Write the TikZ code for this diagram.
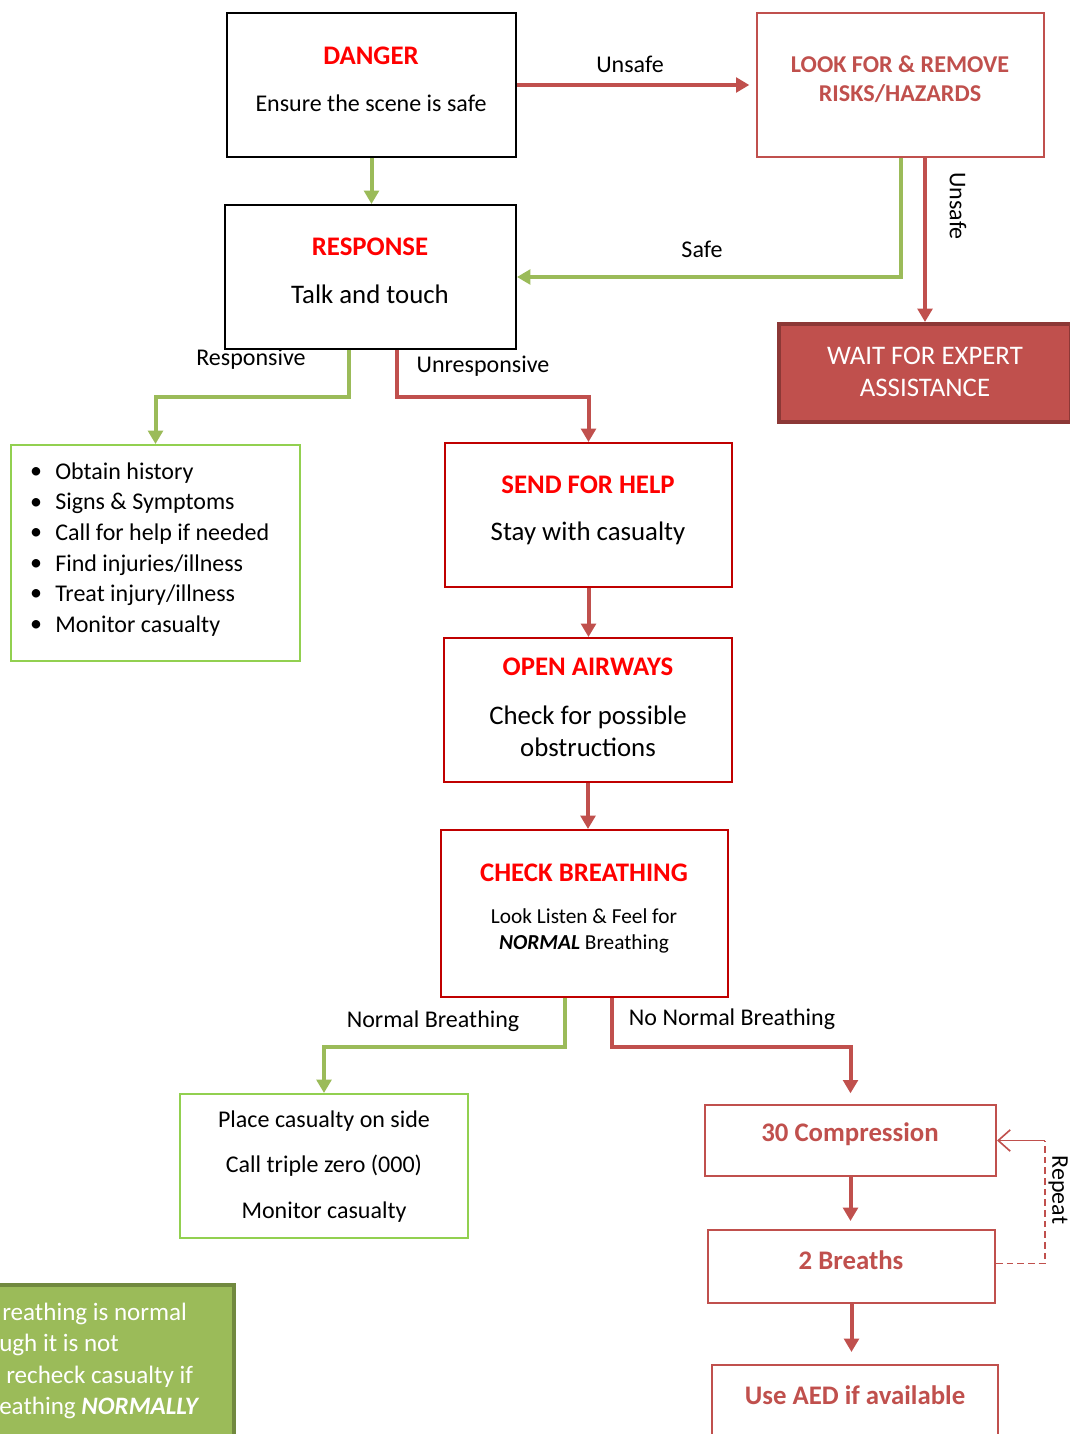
\documentclass[tikz,border=0pt]{standalone}
\usepackage{fontspec}
\setmainfont{Carlito}
\usetikzlibrary{arrows.meta,calc}

\definecolor{aidred}{HTML}{C0504D}
\definecolor{aidgreen}{HTML}{9BBB59}
\definecolor{boxgreen}{HTML}{92D050}
\definecolor{boxred}{HTML}{C00000}
\definecolor{darkred}{HTML}{8C3836}
\definecolor{darkgreen}{HTML}{71893F}

% font sizes (picture drawn in pixels, 1px = 0.75pt)
\newcommand{\fsBody}{\fontsize{18pt}{22pt}\selectfont}
\newcommand{\fsBig}{\fontsize{20.1pt}{24pt}\selectfont}
\newcommand{\fsSmall}{\fontsize{16pt}{19.5pt}\selectfont}

\tikzset{
  every node/.style={font=\fsBody},
  sz/.style 2 args={minimum width=#1*0.75pt, minimum height=#2*0.75pt, inner sep=0pt},
  plainbox/.style={draw=black, line width=1.5pt},
  redbox/.style={draw=boxred, line width=1.5pt},
  softbox/.style={draw=aidred, line width=1.5pt},
  greenbox/.style={draw=boxgreen, line width=1.5pt},
  ttl/.style={text=red, font=\fsBig\bfseries},
  softttl/.style={text=aidred, font=\fsBig\bfseries},
  lbl/.style={font=\fsBody},
  rarrow/.style={draw=aidred, line width=3pt, -{Triangle[length=10pt,width=11pt]}},
  garrow/.style={draw=aidgreen, line width=3pt, -{Triangle[length=10pt,width=11pt]}},
  notetxt/.style={text=white, anchor=west, inner sep=0pt, font={\fontsize{18.8pt}{22pt}\selectfont}},
}

\begin{document}
\begin{tikzpicture}[x=0.75pt,y=-0.75pt]
  \useasboundingbox (0,0) rectangle (1070,1434);

  % Boxes
  \node[plainbox, sz={289}{144}] (danger) at (371.5,85) {};
  \node[softbox, sz={287}{144}] (look) at (900.5,85) {};
  \node[plainbox, sz={291}{144}] (response) at (370.5,277) {};
  \node[draw=darkred, fill=aidred, line width=3pt, sz={292}{98}] (wait) at (925,373) {};
  \node[greenbox, sz={289}{216}] (bullets) at (155.5,553) {};
  \node[redbox, sz={287}{144}] (send) at (588.5,515) {};
  \node[redbox, sz={288}{144}] (open) at (588,710) {};
  \node[redbox, sz={287}{167}] (check) at (584.5,913.5) {};
  \node[greenbox, sz={288}{144}] (place) at (324,1166) {};
  \node[softbox, sz={291}{71}] (comp) at (850.5,1140.5) {};
  \node[softbox, sz={287}{73}] (breaths) at (851.5,1266.5) {};
  \node[softbox, sz={286}{73}] (aed) at (855,1401.5) {};
  \node[draw=darkgreen, fill=aidgreen, line width=3pt, sz={330}{200}, anchor=north east] (note) at (236,1283) {};

  % Texts in boxes
  \node[ttl] (dangerT) at (371,56) {DANGER};
  \node (dangerB) at (371,103) {Ensure the scene is safe};
  \node[text=aidred, align=center, font={\fontsize{18.1pt}{22pt}\selectfont\bfseries}] (lookT) at (900,79) {LOOK FOR \& REMOVE\\RISKS/HAZARDS};
  \node[ttl] (responseT) at (370,247) {RESPONSE};
  \node[font=\fsBig] (responseB) at (370,294) {Talk and touch};
  \node[text=white, align=center, font={\fontsize{20.1pt}{24pt}\selectfont}] (waitT) at (925,372) {WAIT FOR EXPERT\\ASSISTANCE};
  \foreach \txt [count=\i] in {Obtain history, Signs \& Symptoms, Call for help if needed, Find injuries/illness, Treat injury/illness, Monitor casualty}{
    \node (dot\i) at (36,{473+(\i-1)*30.6}) {\textbullet};
    \node[anchor=west, inner sep=0pt] (bul\i) at (55,{473+(\i-1)*30.6}) {\txt};
  }
  \node[ttl] (sendT) at (588,485) {SEND FOR HELP};
  \node[font=\fsBig] (sendB) at (588,533) {Stay with casualty};
  \node[ttl] (openT) at (588,667) {OPEN AIRWAYS};
  \node[align=center, font={\fontsize{20.1pt}{24pt}\selectfont}] (openB) at (588,731) {Check for possible\\obstructions};
  \node[ttl] (checkT) at (584,873) {CHECK BREATHING};
  \node[align=center, font=\fsSmall] (checkB) at (584,931) {Look Listen \& Feel for\\\textbf{\textit{NORMAL}} Breathing};
  \node (placeA) at (324,1121) {Place casualty on side};
  \node (placeB) at (324,1166) {Call triple zero (000)};
  \node (placeC) at (324,1212) {Monitor casualty};
  \node[softttl] (compT) at (850,1134) {30 Compression};
  \node[softttl] (breathsT) at (851,1260) {2 Breaths};
  \node[softttl] (aedT) at (855,1395) {Use AED if available};
  \node[notetxt] (note1) at (2,1314) {reathing is normal};
  \node[notetxt] (note2) at (-1,1345) {ugh it is not};
  \node[notetxt] (note3) at (6,1377) {recheck casualty if};
  \node[notetxt] (note4) at (-1,1408) {eathing \textbf{\textit{NORMALLY}}};

  % Connectors
  \draw[rarrow, shorten >=5pt] (danger.east) -- (look.west);
  \draw[garrow] (danger.south) -- (danger.south |- response.north);
  \draw[garrow] (look.south) |- (response.east);
  \draw[rarrow] (look.south -| wait.north) -- (wait.north);
  \draw[garrow] ($(response.south)+(-22,0)$) -- ++(0,47) -| (bullets.north);
  \draw[rarrow] ($(response.south)+(26,0)$) -- ++(0,47) -| (send.north);
  \draw[rarrow] (send.south) -- (send.south |- open.north);
  \draw[rarrow] (open.south) -- (open.south |- check.north);
  \draw[garrow] ($(check.south)+(-20,0)$) -- ++(0,49) -| (place.north);
  \draw[rarrow, shorten >=8pt] ($(check.south)+(27,0)$) -- ++(0,49) -| (comp.north);
  \draw[rarrow, shorten >=6pt] (comp.south) -- (comp.south |- breaths.north);
  \draw[rarrow, shorten >=9pt] (breaths.south) -- (breaths.south |- aed.north);

  % Repeat loop
  \coordinate (rpt) at ($(breaths.east)+(49,-3)$);
  \draw[aidred, line width=1.2pt, dash pattern=on 5pt off 3pt] ($(breaths.east)+(0,-3)$) -- (rpt) -- (rpt |- comp.east);
  \draw[aidred, line width=1.2pt, -{Straight Barb[length=9pt,width=16pt]}] (rpt |- comp.east) -- (comp.east);

  % Connector labels
  \node[lbl] (unsafeA) at (630,64) {Unsafe};
  \node[lbl] (safeL) at (702,249) {Safe};
  \node[lbl, rotate=-90] (unsafeB) at (958,206) {Unsafe};
  \node[lbl] (respL) at (251,359) {Responsive};
  \node[lbl] (unrespL) at (483,366) {Unresponsive};
  \node[lbl] (normL) at (433,1021) {Normal Breathing};
  \node[lbl] (nonormL) at (732,1019) {No Normal Breathing};
  \node[lbl, rotate=-90, inner sep=1pt] (repeatL) at (1058,1190) {Repeat};
\end{tikzpicture}
\end{document}
